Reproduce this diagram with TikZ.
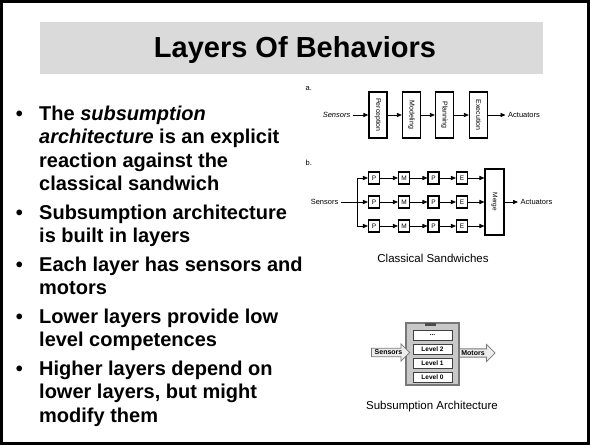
\documentclass[tikz,border=0pt]{standalone}
\usepackage{fontspec}
\setmainfont{Liberation Sans}
\usetikzlibrary{shapes.arrows,arrows.meta}
\definecolor{bandgray}{RGB}{218,218,218}
\definecolor{framegray}{RGB}{120,120,120}
\definecolor{fillgray}{RGB}{200,200,200}
\definecolor{arrowfill}{RGB}{236,236,236}
\begin{document}
\begin{tikzpicture}[x=1pt,y=-1pt,
  bline/.style={anchor=base west, inner sep=0, font=\bfseries\fontsize{20}{24}\selectfont},
  bdot/.style={anchor=base, inner sep=0, font=\bfseries\fontsize{20}{24}\selectfont},
  fig/.style={inner sep=2.5, font=\fontsize{7.5}{9}\selectfont},
  stagebox/.style={draw, line width=1.3, minimum width=18, minimum height=46, inner sep=0},
  stagelabel/.style={rotate=-90, inner sep=0, font=\fontsize{7}{8}\selectfont},
  pbox/.style={draw, line width=1.1, minimum width=11, minimum height=12, inner sep=0, font=\fontsize{6.5}{7}\selectfont},
  mergebox/.style={draw, line width=1.1, minimum width=19, minimum height=66, inner sep=0},
  arr/.style={line width=0.8, -{Triangle[length=5pt,width=4.2pt]}},
  lvl/.style={draw=black!75, fill=white, line width=0.9, minimum width=39, minimum height=10, inner sep=0, font=\bfseries\fontsize{6.5}{7}\selectfont},
  bigarrow/.style={single arrow, draw=framegray, fill=arrowfill, line width=0.8, single arrow head extend=4.5, single arrow head indent=0, inner sep=1.3, font=\bfseries\fontsize{7}{8}\selectfont},
  caption/.style={inner sep=0, font=\fontsize{11.5}{13}\selectfont}]
\useasboundingbox (0,0) rectangle (590,445);

% slide frame and title band
\draw[line width=3] (1.5,1.5) rectangle (588.5,443.5);
\fill[bandgray] (40,22) rectangle (543,74);
\node[anchor=base, inner sep=0, font=\bfseries\fontsize{29}{34}\selectfont] (title) at (295,57) {Layers Of Behaviors};

% bullet list
\foreach \y/\t [count=\i] in {
  120.2/{The \textit{subsumption}},
  143.7/{\textit{architecture} is an explicit},
  167.2/{reaction against the},
  190.7/{classical sandwich},
  219.2/{Subsumption architecture},
  242.7/{is built in layers},
  271.2/{Each layer has sensors and},
  294.7/{motors},
  323.2/{Lower layers provide low},
  346.7/{level competences},
  375.2/{Higher layers depend on},
  398.7/{lower layers, but might},
  422.2/{modify them}}
  \node[bline] (line\i) at (39,\y) {\t};
\foreach \y [count=\i] in {120.2,219.2,271.2,323.2,375.2}
  \node[bdot] (dot\i) at (19.5,\y) {•};

% (a) classical sandwich: one pipeline
\node[fig, anchor=base west] (alab) at (303,90) {a.};
\node[fig, anchor=east] (asens) at (353,115) {\textit{Sensors}};
\foreach \n/\x/\t in {perc/378/Perception, modl/411.5/Modeling, plan/444.5/Planning, exec/478.5/Execution} {
  \node[stagebox] (\n) at (\x,115) {};
  \node[stagelabel] (\n-t) at (\n) {\t};
}
\node[fig, anchor=west] (aact) at (505.5,115) {Actuators};
\draw[arr] (asens) -- (perc);
\draw[arr] (perc) -- (modl);
\draw[arr] (modl) -- (plan);
\draw[arr] (plan) -- (exec);
\draw[arr] (exec) -- (aact);

% (b) parallel sandwiches feeding a merge
\node[fig, anchor=base west] (blab) at (303,165) {b.};
\node[fig, anchor=east] (bsens) at (341,202) {Sensors};
\coordinate (fork) at (357,202);
\coordinate (forkT) at (357,178);
\coordinate (forkB) at (357,226);
\draw[line width=0.8] (bsens) -- (fork);
\draw[line width=0.8] (forkT) -- (forkB);
\node[mergebox] (merge) at (494.5,202) {};
\node[stagelabel, font=\fontsize{6.5}{7}\selectfont] (merge-t) at (merge) {Merge};
\foreach \r/\y in {1/178,2/202,3/226} {
  \coordinate (in\r) at (357,\y);
  \node[pbox] (p\r) at (374,\y) {P};
  \node[pbox] (m\r) at (404,\y) {M};
  \node[pbox] (q\r) at (433.5,\y) {P};
  \node[pbox] (e\r) at (462,\y) {E};
  \draw[arr] (in\r) -- (p\r);
  \draw[arr] (p\r) -- (m\r);
  \draw[arr] (m\r) -- (q\r);
  \draw[arr] (q\r) -- (e\r);
  \draw[arr] (e\r) -- (merge.west |- e\r);
}
\node[fig, anchor=west] (bact) at (518,202) {Actuators};
\draw[arr] (merge) -- (bact);

\node[caption] (cap1) at (433,258) {Classical Sandwiches};

% subsumption stack of levels
\node[bigarrow, minimum height=40] (marrow) at (473,353) {Motors};
\node[draw=framegray, fill=fillgray, line width=1.5, minimum width=53, minimum height=62, inner sep=0] (stack) at (432.5,354) {};
\node[fill=black!70, minimum width=11, minimum height=3, inner sep=0] (tab) at (430.5,324) {};
\node[lvl] (ldots) at (432.5,335) {...};
\foreach \n/\y/\t in {l2/349/Level 2, l1/363/Level 1, l0/377/Level 0}
  \node[lvl] (\n) at (432.5,\y) {\t};
\node[bigarrow, minimum height=38] (sarrow) at (388.5,352.5) {Sensors};

\node[caption] (cap2) at (432,407) {Subsumption Architecture};
\end{tikzpicture}
\end{document}
